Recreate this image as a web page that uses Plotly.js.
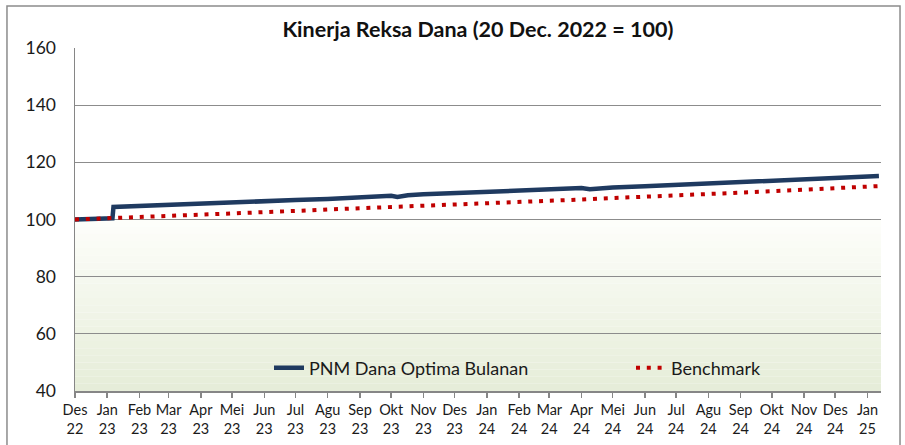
<!DOCTYPE html>
<html>
<head>
<meta charset="utf-8">
<script src="https://cdn.plot.ly/plotly-3.0.1.min.js"></script>
<style>html,body{margin:0;padding:0;background:#fff}#chart{width:905px;height:445px}</style>
</head>
<body>
<div id="chart"></div>
<script>
// ---- data ----
const fundDates = ["2022-12-20","2023-01-20","2023-01-25","2023-01-26","2023-02-20","2023-03-20","2023-04-20","2023-05-20","2023-06-20","2023-07-20","2023-08-20","2023-09-20","2023-10-20","2023-10-26","2023-11-05","2023-11-20","2023-12-20","2024-01-20","2024-02-20","2024-03-20","2024-04-20","2024-04-28","2024-05-20","2024-06-20","2024-07-20","2024-08-20","2024-09-20","2024-10-20","2024-11-20","2024-12-20","2025-01-20","2025-01-31"];
const fundValues = [100.0,100.3,100.4,104.4,104.8,105.2,105.6,106.0,106.4,106.8,107.2,107.7,108.3,107.9,108.5,108.8,109.2,109.6,110.0,110.5,111.0,110.6,111.2,111.6,112.1,112.6,113.0,113.5,114.0,114.5,115.0,115.2];
const benchDates = ["2022-12-20","2023-01-20","2023-02-20","2023-03-20","2023-04-20","2023-05-20","2023-06-20","2023-07-20","2023-08-20","2023-09-20","2023-10-20","2023-11-20","2023-12-20","2024-01-20","2024-02-20","2024-03-20","2024-04-20","2024-05-20","2024-06-20","2024-07-20","2024-08-20","2024-09-20","2024-10-20","2024-11-20","2024-12-20","2025-01-20","2025-01-31"];
const benchValues = [100.0,100.4,101.0,101.4,101.8,102.2,102.6,103.0,103.5,103.9,104.3,104.7,105.2,105.6,106.1,106.5,107.0,107.5,107.9,108.4,108.9,109.4,109.9,110.4,110.9,111.5,111.7];
const tickDates = ["2022-12-20","2023-01-20","2023-02-20","2023-03-20","2023-04-20","2023-05-20","2023-06-20","2023-07-20","2023-08-20","2023-09-20","2023-10-20","2023-11-20","2023-12-20","2024-01-20","2024-02-20","2024-03-20","2024-04-20","2024-05-20","2024-06-20","2024-07-20","2024-08-20","2024-09-20","2024-10-20","2024-11-20","2024-12-20","2025-01-20"];
const tickLabels = ["Des<br>22","Jan<br>23","Feb<br>23","Mar<br>23","Apr<br>23","Mei<br>23","Jun<br>23","Jul<br>23","Agu<br>23","Sep<br>23","Okt<br>23","Nov<br>23","Des<br>23","Jan<br>24","Feb<br>24","Mar<br>24","Apr<br>24","Mei<br>24","Jun<br>24","Jul<br>24","Agu<br>24","Sep<br>24","Okt<br>24","Nov<br>24","Des<br>24","Jan<br>25"];
const seriesNames = ["PNM Dana Optima Bulanan","Benchmark"];
const titleText = "Kinerja Reksa Dana (20 Dec. 2022 = 100)";

// ---- styling ----
const FONT = "Lato, 'Open Sans', sans-serif";
const shapes = [];
// gradient bands below 100
const nBands = 24;
const c0 = [253,254,251], c1 = [230,237,216];
for (let i = 0; i < nBands; i++) {
  const t = (i + 0.5) / nBands;
  const c = c0.map((v, k) => Math.round(v + (c1[k] - v) * t));
  const top = 100 - 60 * i / nBands, bot = 100 - 60 * (i + 1) / nBands;
  shapes.push({type:'rect', xref:'paper', yref:'y', x0:0, x1:1, y0:bot, y1:top,
    fillcolor:`rgb(${c[0]},${c[1]},${c[2]})`, line:{width:0}, layer:'below'});
}
// outer chart border
shapes.push({type:'rect', xref:'paper', yref:'paper', x0:-0.0844, x1:1.0236, y0:-0.3, y1:1.1224,
  line:{color:'#8c8c8c', width:1.5}, fillcolor:'rgba(0,0,0,0)'});

const traces = [
  {x: fundDates, y: fundValues, name: seriesNames[0], type:'scatter', mode:'lines',
   line:{color:'#1f3a60', width:4.5}, legend:'legend'},
  {x: benchDates, y: benchValues, name: seriesNames[1], type:'scatter', mode:'lines',
   line:{color:'#c00000', width:4, dash:'4px,6.8px'}, legend:'legend2'}
];

const legFont = {family:FONT, size:18, color:'#1a1a1a'};
const layout = {
  width:905, height:445,
  margin:{l:75, r:24, t:48, b:54},
  paper_bgcolor:'#ffffff', plot_bgcolor:'rgba(0,0,0,0)',
  font:{family:FONT, color:'#1a1a1a'},
  title:{text:'<b>'+titleText+'</b>', font:{family:FONT, size:21.5, color:'#111'},
    x:0.528, xanchor:'center', y:0.933, yanchor:'middle', xref:'container', yref:'container'},
  xaxis:{type:'date', range:['2022-12-20','2025-02-02'], tickmode:'array', tickvals:tickDates, ticktext:tickLabels,
    showgrid:false, zeroline:false, showline:true, linecolor:'#868686', linewidth:1.5,
    ticks:'outside', ticklen:5, tickcolor:'#868686', tickwidth:1.5, tickangle:0,
    tickfont:{family:FONT, size:14.5, color:'#1a1a1a'}},
  yaxis:{range:[40,160], dtick:20, tick0:40, showgrid:true, gridcolor:'#8c8c8c', gridwidth:1.3,
    zeroline:false, showline:true, linecolor:'#868686', linewidth:1.5, ticks:'',
    ticklabelstandoff:14, tickfont:{family:FONT, size:17.5, color:'#1a1a1a'}},
  showlegend:true,
  legend:{x:(269-75)/806, xanchor:'left', y:0.067, yanchor:'middle',
    bgcolor:'rgba(0,0,0,0)', font:legFont},
  legend2:{x:(631-75)/806, xanchor:'left', y:0.067, yanchor:'middle',
    bgcolor:'rgba(0,0,0,0)', font:legFont},
  shapes: shapes
};

Plotly.newPlot('chart', traces, layout, {displayModeBar:false, staticPlot:true});
</script>
</body>
</html>
